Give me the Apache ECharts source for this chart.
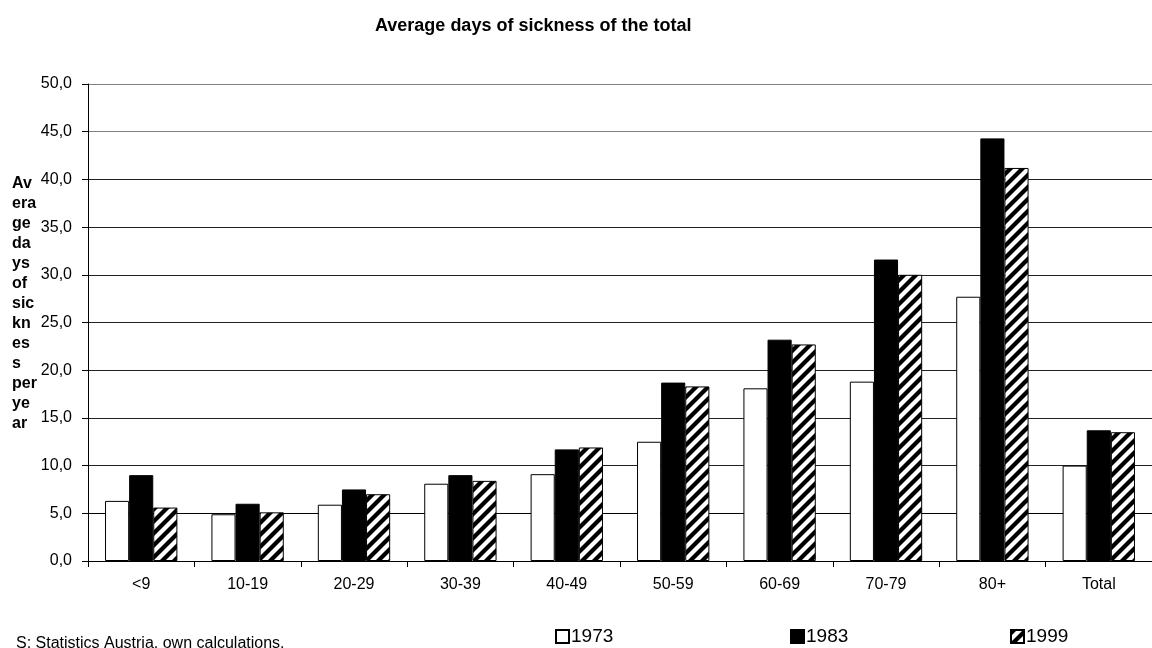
<!DOCTYPE html>
<html>
<head>
<meta charset="utf-8">
<script src="https://cdn.jsdelivr.net/npm/echarts@6/dist/echarts.min.js"></script>
<style>
html,body{margin:0;padding:0;background:#fff;}
#chart{width:1152px;height:648px;}
</style>
</head>
<body>
<div id="chart"></div>
<script>
const categories = ['<9','10-19','20-29','30-39','40-49','50-59','60-69','70-79','80+','Total'];
const values1973 = [6.3, 4.9, 5.9, 8.1, 9.1, 12.5, 18.1, 18.8, 27.7, 10.0];
const values1983 = [9.0, 6.0, 7.5, 9.0, 11.7, 18.7, 23.2, 31.6, 44.3, 13.7];
const values1999 = [5.6, 5.1, 7.0, 8.4, 11.9, 18.3, 22.7, 30.0, 41.2, 13.5];
const seriesNames = ['1973','1983','1999'];
const titleText = 'Average days of sickness of the total';
const yAxisNameLines = ['Av','era','ge','da','ys','of','sic','kn','es','s','per','ye','ar'];
const sourceText = 'S: Statistics Austria, own calculations.';

// hatch pattern "///"
function makeHatch(){
  const s = 12, w = 6;
  const c = document.createElement('canvas');
  c.width = s; c.height = s;
  const ctx = c.getContext('2d');
  ctx.fillStyle = '#fff';
  ctx.fillRect(0,0,s,s);
  ctx.fillStyle = '#000';
  for (let k = -1; k <= 2; k++) {
    const cc = k * s;
    ctx.beginPath();
    ctx.moveTo(cc - s, s);
    ctx.lineTo(cc - s + w, s);
    ctx.lineTo(cc + w, 0);
    ctx.lineTo(cc, 0);
    ctx.closePath();
    ctx.fill();
  }
  return c;
}
const hatch = makeHatch();

const FONT = 'Liberation Sans, Arial, sans-serif';
const chart = echarts.init(document.getElementById('chart'), null, {renderer:'canvas'});

const legendBase = {
  orient: 'horizontal',
  top: 627,
  itemWidth: 13,
  itemHeight: 13,
  itemGap: 0,
  padding: 0,
  icon: 'rect',
  textStyle: {fontFamily: FONT, fontSize: 19, color: '#000', padding: [0,0,0,-3]},
  selectedMode: false
};

chart.setOption({
  animation: false,
  backgroundColor: '#fff',
  title: {
    text: titleText,
    left: 370,
    top: 12,
    textStyle: {fontFamily: FONT, fontSize: 18, fontWeight: 'bold', color: '#000'}
  },
  legend: [
    Object.assign({}, legendBase, {data: [seriesNames[0]], left: 555}),
    Object.assign({}, legendBase, {data: [seriesNames[1]], left: 790}),
    Object.assign({}, legendBase, {data: [seriesNames[2]], left: 1010})
  ],
  grid: {left: 88, right: -8.5, top: 84, bottom: 87, containLabel: false},
  xAxis: {
    type: 'category',
    data: categories,
    axisLine: {show: true, lineStyle: {color: '#000', width: 1}},
    axisTick: {show: true, length: 6, lineStyle: {color: '#000'}},
    axisLabel: {fontFamily: FONT, fontSize: 16, color: '#000', margin: 16, interval: 0},
    splitLine: {show: false}
  },
  yAxis: {
    type: 'value',
    min: 0,
    max: 50,
    interval: 5,
    axisLine: {show: true, lineStyle: {color: '#000', width: 1}},
    axisTick: {show: true, length: 6, lineStyle: {color: '#000'}},
    axisLabel: {
      fontFamily: FONT, fontSize: 16, color: '#000', margin: 16,
      formatter: v => v.toFixed(1).replace('.', ',')
    },
    splitLine: {show: true, lineStyle: {color: ['#000','#000','#222','#222','#222','#222','#222','#222','#222','#808080','#808080'], width: 1}}
  },
  series: [
    {
      name: seriesNames[0], type: 'bar', data: values1973,
      barGap: '0%', barCategoryGap: '32%',
      itemStyle: {color: '#fff', borderColor: '#000', borderWidth: 1}
    },
    {
      name: seriesNames[1], type: 'bar', data: values1983,
      barGap: '0%', barCategoryGap: '32%',
      itemStyle: {color: '#000', borderColor: '#000', borderWidth: 1}
    },
    {
      name: seriesNames[2], type: 'bar', data: values1999,
      barGap: '0%', barCategoryGap: '32%',
      itemStyle: {color: {image: hatch, repeat: 'repeat'}, borderColor: '#000', borderWidth: 1}
    }
  ],
  graphic: [
    {
      type: 'text', left: 12, top: 174,
      style: {text: yAxisNameLines.join('\n'), font: 'bold 16px ' + FONT, fill: '#000', lineHeight: 20}
    },
    {
      type: 'text', left: 16, top: 636,
      style: {text: sourceText, font: '16px ' + FONT, fill: '#000'}
    }
  ]
});
</script>
</body>
</html>
